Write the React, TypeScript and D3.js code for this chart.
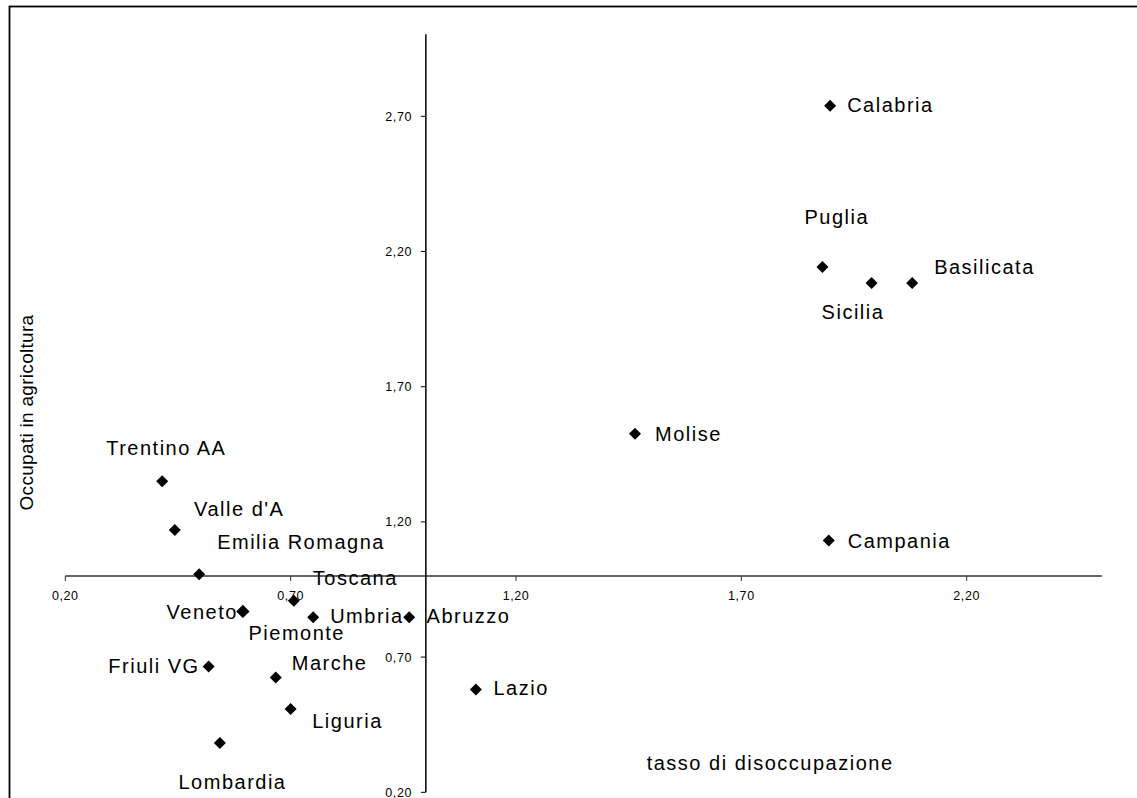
import React from "react";
import * as d3 from "d3";

// ---- Data ----
const regions = [
  "Calabria", "Puglia", "Sicilia", "Basilicata", "Molise", "Campania", "Lazio",
  "Abruzzo", "Umbria", "Toscana", "Veneto", "Piemonte", "Emilia Romagna",
  "Friuli VG", "Marche", "Liguria", "Lombardia", "Trentino AA", "Valle d'A",
];
const disoccupazione = [
  1.897, 1.880, 1.989, 2.079, 1.464, 1.894, 1.111,
  0.963, 0.750, 0.707, 0.594, 0.594, 0.497,
  0.518, 0.667, 0.700, 0.543, 0.415, 0.443,
];
const agricoltura = [
  2.739, 2.143, 2.084, 2.084, 1.526, 1.131, 0.580,
  0.847, 0.847, 0.908, 0.869, 0.869, 1.006,
  0.665, 0.625, 0.508, 0.382, 1.350, 1.170,
];
const xTicks = [0.2, 0.7, 1.2, 1.7, 2.2];
const yTicks = [0.2, 0.7, 1.2, 1.7, 2.2, 2.7];
const xTitle = "tasso di disoccupazione";
const yTitle = "Occupati in agricoltura";

// ---- Layout (label offsets relative to marker, in px) ----
const labelLayout: Record<string, { dx: number; dy: number; anchor?: string }> = {
  Calabria: { dx: 17, dy: 6 },
  Puglia: { dx: -18, dy: -43 },
  Sicilia: { dx: -50, dy: 36 },
  Basilicata: { dx: 22, dy: -9 },
  Molise: { dx: 20, dy: 7 },
  Campania: { dx: 19, dy: 7 },
  Lazio: { dx: 17.6, dy: 5 },
  Abruzzo: { dx: 17.4, dy: 5.6 },
  Umbria: { dx: 17, dy: 5.5 },
  Toscana: { dx: 19, dy: -16 },
  Veneto: { dx: -5, dy: 7.5, anchor: "end" },
  Piemonte: { dx: 5.6, dy: 28.5 },
  "Emilia Romagna": { dx: 18, dy: -25 },
  "Friuli VG": { dx: -9, dy: 6, anchor: "end" },
  Marche: { dx: 16, dy: -7.7 },
  Liguria: { dx: 21.6, dy: 19 },
  Lombardia: { dx: -41.4, dy: 46 },
  "Trentino AA": { dx: -56, dy: -26.7 },
  "Valle d'A": { dx: 19.3, dy: -14.3 },
};

const FONT = "'Liberation Sans', Arial, Helvetica, sans-serif";

export default function App() {
  const W = 1137;
  const H = 798;
  const x = d3.scaleLinear().domain([0.2, 2.5]).range([65.3, 1101.9]);
  const y = d3.scaleLinear().domain([0.2, 3.0]).range([792.3, 35.2]);
  const fmt = (v: number) => d3.format(".2f")(v).replace(".", ",");
  const diamond = d3.symbol().type(d3.symbolSquare).size(72)() as string;

  const x0 = x(1.0);
  const y0 = y(1.0);

  const points = regions.map((name, i) => ({
    name,
    px: x(disoccupazione[i]),
    py: y(agricoltura[i]),
  }));

  return (
    <svg
      width={W}
      height={H}
      style={{ position: "absolute", left: 0, top: 0, display: "block", background: "#fff" }}
      fontFamily={FONT}
    >
      <rect x={9.5} y={6.5} width={1200} height={900} fill="none" stroke="#000" strokeWidth={1.8} />

      {/* x axis */}
      <line x1={x(0.2)} x2={x(2.5)} y1={y0} y2={y0} stroke="#333" strokeWidth={1.6} />
      {xTicks.map((t) => (
        <g key={"xt" + t}>
          <line x1={x(t)} x2={x(t)} y1={y0} y2={y0 + 5} stroke="#333" strokeWidth={1} />
          <text x={x(t)} y={599.5} fontSize={12.5} textAnchor="middle" letterSpacing={0.6} fill="#000">
            {fmt(t)}
          </text>
        </g>
      ))}

      {/* y axis */}
      <line x1={x0} x2={x0} y1={y(3.0) - 1} y2={y(0.2)} stroke="#000" strokeWidth={1.5} />
      {yTicks.map((t) => (
        <g key={"yt" + t}>
          <line x1={x0 - 5} x2={x0} y1={y(t)} y2={y(t)} stroke="#000" strokeWidth={1} />
          <text x={412} y={y(t) + 4.5} fontSize={12.5} textAnchor="end" letterSpacing={0.6} fill="#000">
            {fmt(t)}
          </text>
        </g>
      ))}

      {/* titles */}
      <text x={646.7} y={770} fontSize={20} letterSpacing={1.5} fill="#000">
        {xTitle}
      </text>
      <text
        transform={`translate(33,412.5) rotate(-90)`}
        fontSize={19}
        textAnchor="middle"
        letterSpacing={0.3}
        fill="#000"
      >
        {yTitle}
      </text>

      {/* markers */}
      {points.map((p) => (
        <path
          key={"m" + p.name}
          d={diamond}
          transform={`translate(${p.px},${p.py}) rotate(45)`}
          fill={p.name === "Veneto" ? "#000080" : "#000"}
          stroke={p.name === "Veneto" ? "#0a2a0a" : "none"}
          strokeWidth={1}
        />
      ))}

      {/* labels */}
      {points.map((p) => {
        const l = labelLayout[p.name];
        return (
          <text
            key={"l" + p.name}
            x={p.px + l.dx}
            y={p.py + l.dy}
            fontSize={20}
            letterSpacing={1.5}
            textAnchor={l.anchor ?? "start"}
            fill="#000"
          >
            {p.name}
          </text>
        );
      })}
    </svg>
  );
}
